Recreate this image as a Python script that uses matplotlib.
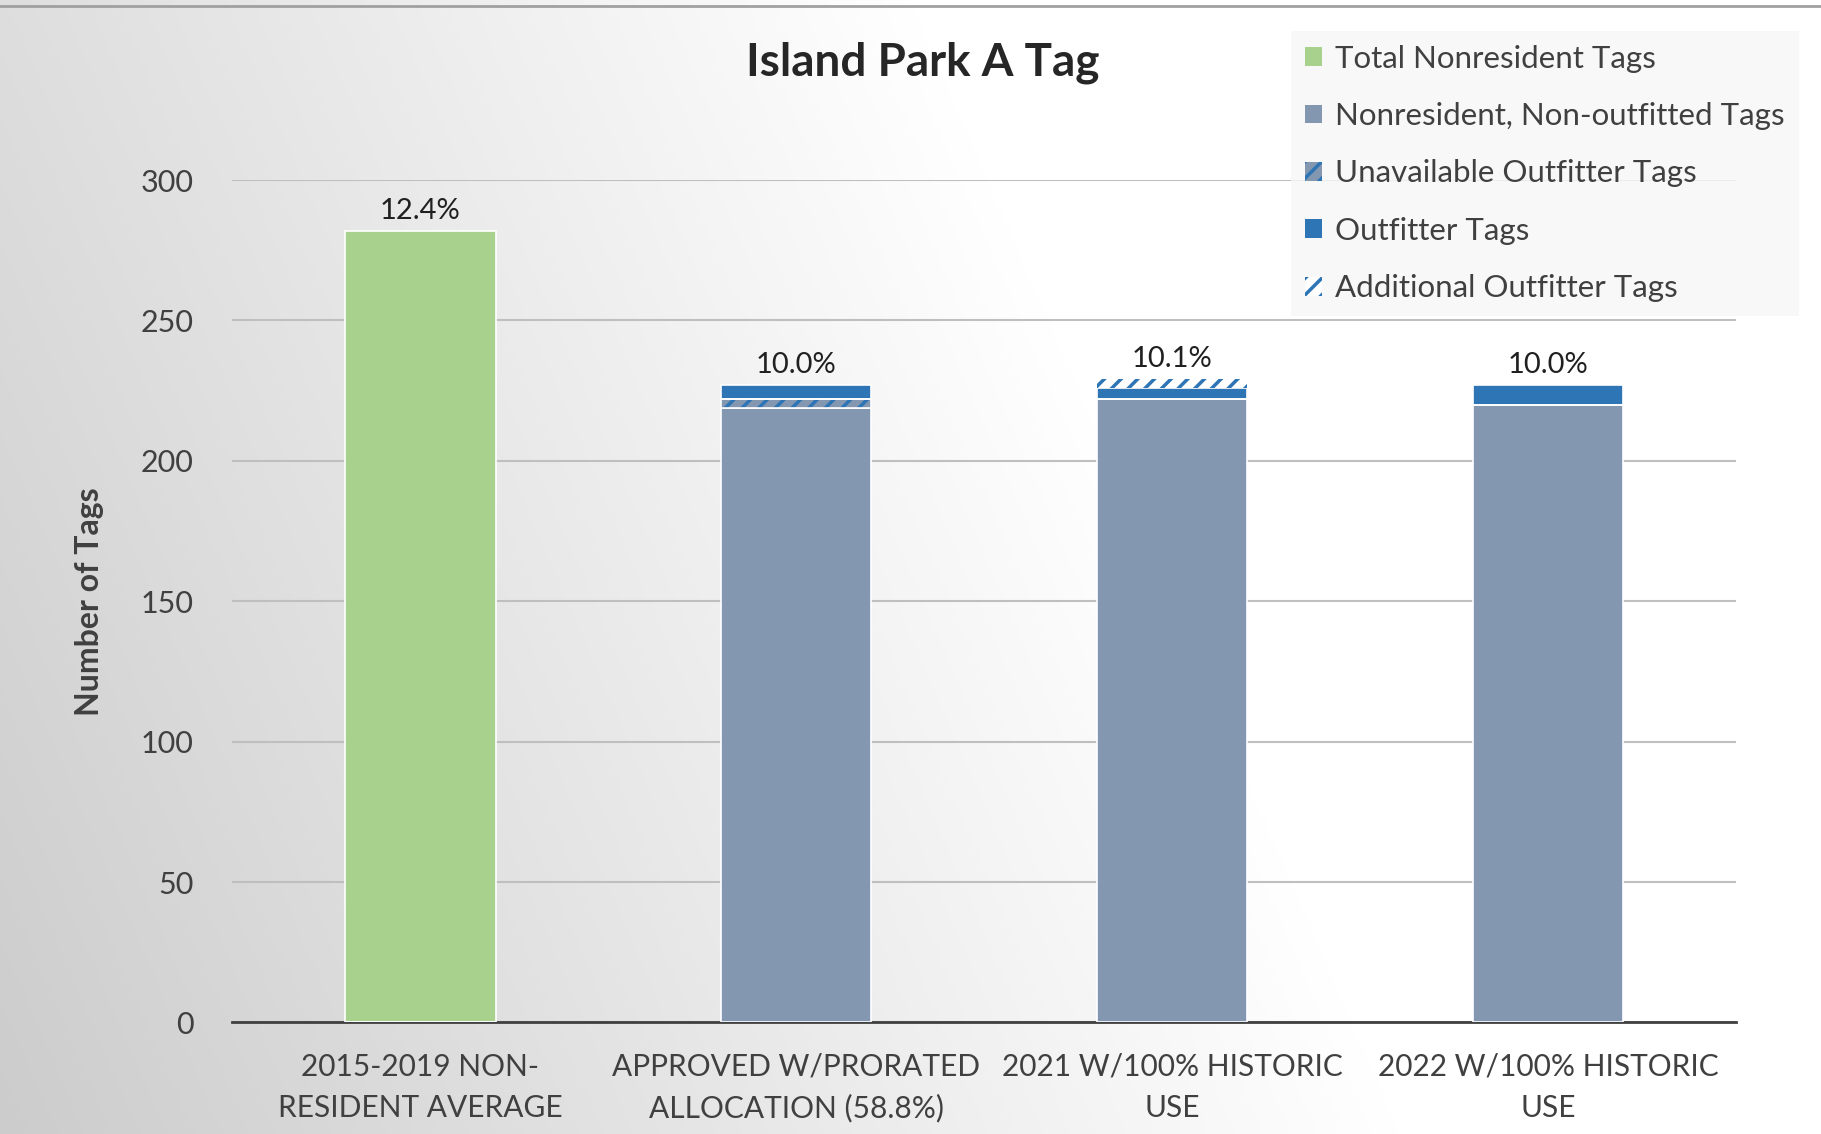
import matplotlib
matplotlib.use("Agg")
from matplotlib import pyplot as plt
from matplotlib.patches import Patch
import numpy as np

# Data
categories = ["2015-2019 NON-\nRESIDENT AVERAGE", "APPROVED W/PRORATED\nALLOCATION (58.8%)",
              "2021 W/100% HISTORIC\nUSE", "2022 W/100% HISTORIC\nUSE"]
total_nonresident = [282, 0, 0, 0]
non_outfitted = [0, 219, 222, 220]
unavailable_outfitter = [0, 3, 0, 0]
outfitter = [0, 5, 4, 7]
additional_outfitter = [0, 0, 3, 0]
pct_labels = ["12.4%", "10.0%", "10.1%", "10.0%"]

green = "#a9d18e"
slate = "#8497b0"
blue = "#2e75b6"
text_col = "#404040"

plt.rcParams["font.family"] = ["Lato", "DejaVu Sans"]
plt.rcParams["hatch.linewidth"] = 2.5

fig = plt.figure(figsize=(18.21, 11.34), dpi=100)

# gradient background (darker bottom-left, white top-right)
bg = fig.add_axes([0, 0, 1, 1], zorder=-5)
gx, gy = np.meshgrid(np.linspace(0, 1, 400), np.linspace(0, 1, 300))
shade = 0.80 + 0.20 * np.clip(gx * 1.3 + gy * 0.35, 0, 1)
bg.imshow(np.dstack([shade, shade, shade]), extent=[0, 1, 0, 1], aspect="auto", origin="lower")
bg.axhline(0.995, color="#a0a0a0", lw=2)
bg.set_axis_off()

ax = fig.add_axes([0.1276, 0.0984, 0.8258, 0.7428])
ax.patch.set_alpha(0)
x = np.arange(len(categories))
w = 0.4

ax.bar(x, total_nonresident, w, color=green, edgecolor="white", lw=1.2, zorder=3)
bottom = np.array(non_outfitted, dtype=float)
ax.bar(x, non_outfitted, w, color=slate, edgecolor="white", lw=1.2, zorder=3)

# hatched segment: hatch colour comes from edgecolor, outline drawn separately
ax.bar(x, unavailable_outfitter, w, bottom=bottom, color=slate, edgecolor=blue, lw=0, hatch="//", zorder=3)
ax.bar(x, unavailable_outfitter, w, bottom=bottom, fill=False, edgecolor="white", lw=1.2, zorder=4)
bottom += unavailable_outfitter
ax.bar(x, outfitter, w, bottom=bottom, color=blue, edgecolor="white", lw=1.2, zorder=3)
bottom += outfitter
ax.bar(x, additional_outfitter, w, bottom=bottom, color="white", edgecolor=blue, lw=0, hatch="//", zorder=3)
bottom += additional_outfitter

tops = np.maximum(bottom, total_nonresident)
for xi, top, lab in zip(x, tops, pct_labels):
    ax.text(xi, top + 2.5, lab, ha="center", va="bottom", fontsize=21, color="#202020")

ax.set_xlim(-0.5, 3.5)
ax.set_ylim(0, 300)
ax.set_yticks([0, 50, 100, 150, 200, 250, 300])
ax.yaxis.grid(True, color="#bfbfbf", lw=1.5, zorder=0)
ax.set_axisbelow(True)
for s in ["top", "right", "left"]:
    ax.spines[s].set_visible(False)
ax.spines["bottom"].set_color("#404040")
ax.spines["bottom"].set_linewidth(2)
ax.tick_params(axis="y", length=0, pad=28, labelsize=22, labelcolor=text_col)
ax.tick_params(axis="x", length=0, pad=22, labelsize=21.5, labelcolor=text_col)
ax.set_xticks(x)
ax.set_xticklabels(categories, linespacing=1.55)
ax.set_ylabel("Number of Tags", fontsize=23, fontweight="bold", color=text_col, labelpad=26)

fig.text(0.507, 0.945, "Island Park A Tag", ha="center", va="center", fontsize=33,
         fontweight="bold", color="#262626")

handles = [
    Patch(facecolor=green, label="Total Nonresident Tags"),
    Patch(facecolor=slate, label="Nonresident, Non-outfitted Tags"),
    Patch(facecolor=slate, edgecolor=blue, lw=0, hatch="//", label="Unavailable Outfitter Tags"),
    Patch(facecolor=blue, label="Outfitter Tags"),
    Patch(facecolor="white", edgecolor=blue, lw=0, hatch="//", label="Additional Outfitter Tags"),
]
leg = fig.legend(handles=handles, loc="upper left", bbox_to_anchor=(0.709, 0.973), fontsize=22.5,
                 handlelength=0.55, handleheight=0.55, handletextpad=0.4, labelspacing=0.94,
                 frameon=True, facecolor="#f7f7f7", edgecolor="none", framealpha=0.8,
                 borderpad=0.45, borderaxespad=0, labelcolor=text_col)
leg.get_frame().set_boxstyle("square", pad=0)

fig.savefig("out.png", dpi=100)
